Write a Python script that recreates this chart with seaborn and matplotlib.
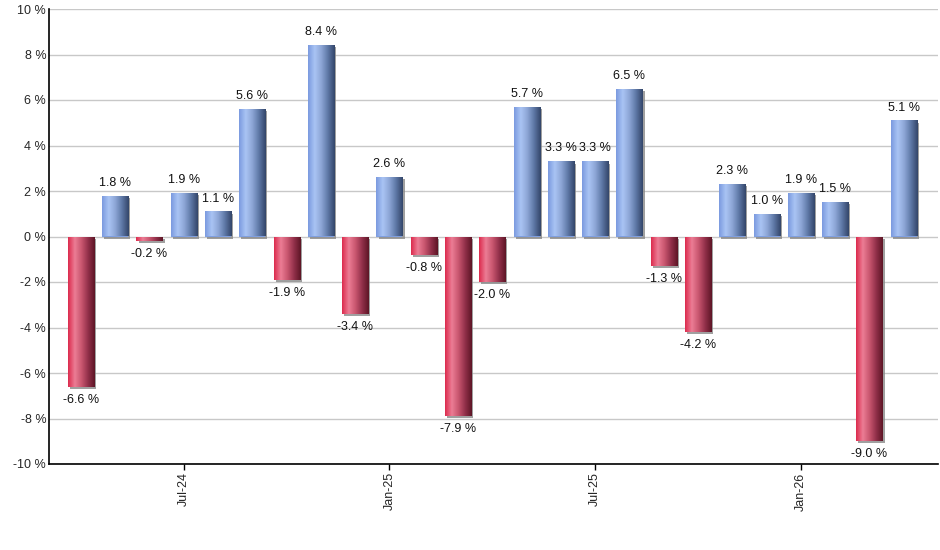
import numpy as np
import pandas as pd
import matplotlib
matplotlib.use("Agg")
import matplotlib.pyplot as plt
import seaborn as sns
from matplotlib.colors import LinearSegmentedColormap
from matplotlib import patheffects as pe

months = ["Apr-24", "May-24", "Jun-24", "Jul-24", "Aug-24", "Sep-24", "Oct-24", "Nov-24",
          "Dec-24", "Jan-25", "Feb-25", "Mar-25", "Apr-25", "May-25", "Jun-25", "Jul-25",
          "Aug-25", "Sep-25", "Oct-25", "Nov-25", "Dec-25", "Jan-26", "Feb-26", "Mar-26", "Apr-26"]
returns = [-6.6, 1.8, -0.2, 1.9, 1.1, 5.6, -1.9, 8.4, -3.4, 2.6, -0.8, -7.9, -2.0,
           5.7, 3.3, 3.3, 6.5, -1.3, -4.2, 2.3, 1.0, 1.9, 1.5, -9.0, 5.1]
tick_months = ["Jul-24", "Jan-25", "Jul-25", "Jan-26"]
y_ticks = [-10, -8, -6, -4, -2, 0, 2, 4, 6, 8, 10]

df = pd.DataFrame({"month": months, "ret": returns})
df["sign"] = np.where(df["ret"] >= 0, "pos", "neg")

sns.set_theme(style="white")
plt.rcParams['font.family'] = ['Liberation Sans', 'DejaVu Sans']

fig = plt.figure(figsize=(9.4, 5.5), dpi=100)
ax = fig.add_axes([49/940, 1-464/550, (938-49)/940, (464-9)/550])

sns.barplot(data=df, x="month", y="ret", hue="sign",
            palette={"pos": "#7f9fe0", "neg": "#d83050"},
            order=months, dodge=False, width=0.76, legend=False, ax=ax,
            saturation=1)

blue_cmap = LinearSegmentedColormap.from_list(
    "b", ["#7b9be0", "#aac4f4", "#8ca5d5", "#5d77a5", "#34466a"])
red_cmap = LinearSegmentedColormap.from_list(
    "r", ["#dc2c4e", "#ec7d95", "#c9566f", "#92304a", "#5e1526"])
grad = np.linspace(0, 1, 64).reshape(1, -1)

ax.set_xlim(-0.93, 25.0)
ax.set_ylim(-10, 10)

for p in ax.patches:
    h = p.get_height()
    x0, w = p.get_x(), p.get_width()
    y0 = p.get_y()
    cmap = blue_cmap if h >= 0 else red_cmap
    p.set_edgecolor("none")
    p.set_path_effects([pe.SimplePatchShadow(offset=(1.5, -1.5), shadow_rgbFace="#888888", alpha=0.8),
                        pe.Normal()])
    im = ax.imshow(grad, cmap=cmap, aspect="auto",
                   extent=[x0, x0 + w, min(y0, y0 + h), max(y0, y0 + h)],
                   zorder=p.get_zorder() + 0.1)
    im.set_clip_path(p)

for i, v in enumerate(returns):
    if v >= 0:
        ax.annotate(f"{v:.1f} %", (i, v), xytext=(0, 5), textcoords="offset points",
                    ha="center", va="bottom", fontsize=9, color="#111111")
    else:
        ax.annotate(f"{v:.1f} %", (i, v), xytext=(0, -5), textcoords="offset points",
                    ha="center", va="top", fontsize=9, color="#111111")

ax.set_xlim(-0.93, 25.0)
ax.set_ylim(-10, 10)
ax.set_yticks(y_ticks)
ax.set_yticklabels([f"{t} %" for t in y_ticks], fontsize=9)
ax.set_xticks([months.index(m) for m in tick_months])
ax.set_xticklabels(tick_months, rotation=90, fontsize=9)
ax.tick_params(axis="x", length=4, width=1, color="black", direction="out", bottom=True, pad=2)
ax.tick_params(axis="y", length=0, pad=2)
ax.set_xlabel("")
ax.set_ylabel("")
ax.yaxis.grid(True, color="#c8c8c8", linewidth=1)
ax.set_axisbelow(True)
for s in ["top", "right"]:
    ax.spines[s].set_visible(False)
for s in ["left", "bottom"]:
    ax.spines[s].set_color("black")
    ax.spines[s].set_linewidth(1.2)

fig.savefig("out.png", dpi=100)
